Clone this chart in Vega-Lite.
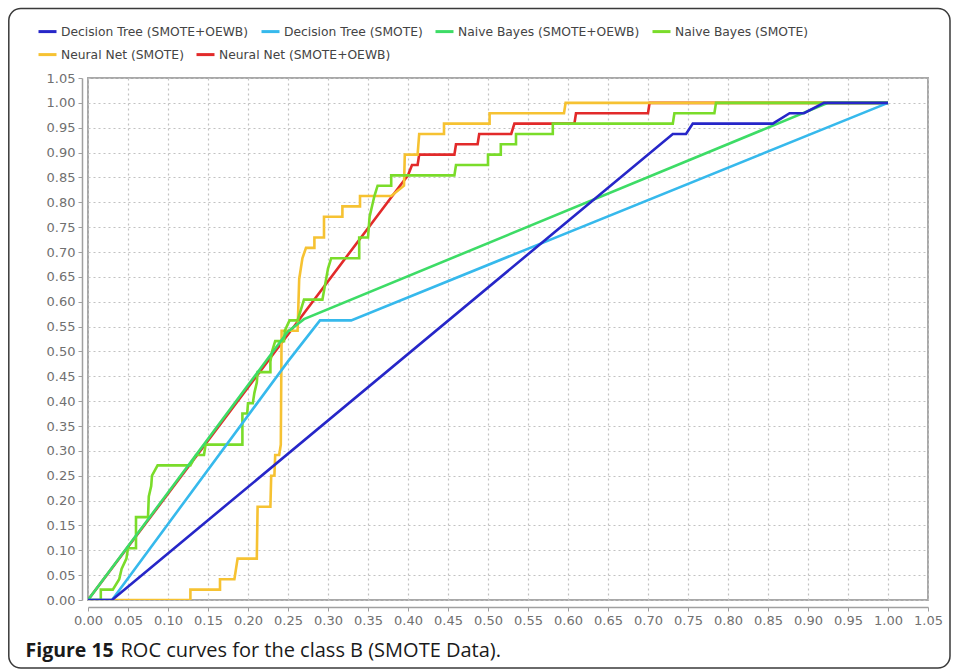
{
  "$schema": "https://vega.github.io/schema/vega-lite/v6.json",
  "width": 840,
  "height": 522,
  "autosize": "none",
  "padding": {"left": 88, "top": 78, "right": 28, "bottom": 70},
  "background": "white",
  "config": {
    "view": {"stroke": "#a8a8a8", "strokeWidth": 2},
    "axis": {
      "grid": true,
      "labelFont": "DejaVu Sans", "labelFontSize": 13, "labelColor": "#707070",
      "labelOverlap": false, "labelFlush": false,
      "domainColor": "#a0a0a0", "domainWidth": 1.5, "tickColor": "#a0a0a0", "tickSize": 4,
      "gridColor": "#c2c2c2", "gridDash": [2, 3], "gridWidth": 1.2
    },
    "legend": {
      "labelFont": "DejaVu Sans", "labelFontSize": 12.3, "labelColor": "#444444", "labelLimit": 0,
      "symbolType": "stroke", "symbolStrokeWidth": 3, "symbolSize": 324, "labelOffset": 3,
      "columnPadding": 6, "padding": 0
    }
  },
  "datasets": {
    "nn": [
      {"s": "Neural Net (SMOTE+OEWB)", "i": 0, "x": 0, "y": 0},
      {"s": "Neural Net (SMOTE+OEWB)", "i": 1, "x": 0.39, "y": 0.8333},
      {"s": "Neural Net (SMOTE+OEWB)", "i": 2, "x": 0.40, "y": 0.8542},
      {"s": "Neural Net (SMOTE+OEWB)", "i": 3, "x": 0.405, "y": 0.875},
      {"s": "Neural Net (SMOTE+OEWB)", "i": 4, "x": 0.412, "y": 0.875},
      {"s": "Neural Net (SMOTE+OEWB)", "i": 5, "x": 0.414, "y": 0.8958},
      {"s": "Neural Net (SMOTE+OEWB)", "i": 6, "x": 0.458, "y": 0.8958},
      {"s": "Neural Net (SMOTE+OEWB)", "i": 7, "x": 0.46, "y": 0.9167},
      {"s": "Neural Net (SMOTE+OEWB)", "i": 8, "x": 0.487, "y": 0.9167},
      {"s": "Neural Net (SMOTE+OEWB)", "i": 9, "x": 0.489, "y": 0.9375},
      {"s": "Neural Net (SMOTE+OEWB)", "i": 10, "x": 0.529, "y": 0.9375},
      {"s": "Neural Net (SMOTE+OEWB)", "i": 11, "x": 0.533, "y": 0.9583},
      {"s": "Neural Net (SMOTE+OEWB)", "i": 12, "x": 0.608, "y": 0.9583},
      {"s": "Neural Net (SMOTE+OEWB)", "i": 13, "x": 0.61, "y": 0.9792},
      {"s": "Neural Net (SMOTE+OEWB)", "i": 14, "x": 0.70, "y": 0.9792},
      {"s": "Neural Net (SMOTE+OEWB)", "i": 15, "x": 0.702, "y": 1},
      {"s": "Neural Net (SMOTE+OEWB)", "i": 16, "x": 1, "y": 1},
      {"s": "Neural Net (SMOTE)", "i": 0, "x": 0, "y": 0},
      {"s": "Neural Net (SMOTE)", "i": 1, "x": 0.128, "y": 0},
      {"s": "Neural Net (SMOTE)", "i": 2, "x": 0.128, "y": 0.0208},
      {"s": "Neural Net (SMOTE)", "i": 3, "x": 0.165, "y": 0.0208},
      {"s": "Neural Net (SMOTE)", "i": 4, "x": 0.165, "y": 0.0417},
      {"s": "Neural Net (SMOTE)", "i": 5, "x": 0.183, "y": 0.0417},
      {"s": "Neural Net (SMOTE)", "i": 6, "x": 0.187, "y": 0.0833},
      {"s": "Neural Net (SMOTE)", "i": 7, "x": 0.211, "y": 0.0833},
      {"s": "Neural Net (SMOTE)", "i": 8, "x": 0.212, "y": 0.1875},
      {"s": "Neural Net (SMOTE)", "i": 9, "x": 0.228, "y": 0.1875},
      {"s": "Neural Net (SMOTE)", "i": 10, "x": 0.229, "y": 0.25},
      {"s": "Neural Net (SMOTE)", "i": 11, "x": 0.233, "y": 0.25},
      {"s": "Neural Net (SMOTE)", "i": 12, "x": 0.234, "y": 0.2917},
      {"s": "Neural Net (SMOTE)", "i": 13, "x": 0.239, "y": 0.2917},
      {"s": "Neural Net (SMOTE)", "i": 14, "x": 0.241, "y": 0.3125},
      {"s": "Neural Net (SMOTE)", "i": 15, "x": 0.242, "y": 0.5417},
      {"s": "Neural Net (SMOTE)", "i": 16, "x": 0.262, "y": 0.5417},
      {"s": "Neural Net (SMOTE)", "i": 17, "x": 0.264, "y": 0.6458},
      {"s": "Neural Net (SMOTE)", "i": 18, "x": 0.268, "y": 0.6875},
      {"s": "Neural Net (SMOTE)", "i": 19, "x": 0.2725, "y": 0.7083},
      {"s": "Neural Net (SMOTE)", "i": 20, "x": 0.283, "y": 0.7083},
      {"s": "Neural Net (SMOTE)", "i": 21, "x": 0.283, "y": 0.7292},
      {"s": "Neural Net (SMOTE)", "i": 22, "x": 0.295, "y": 0.7292},
      {"s": "Neural Net (SMOTE)", "i": 23, "x": 0.295, "y": 0.7708},
      {"s": "Neural Net (SMOTE)", "i": 24, "x": 0.318, "y": 0.7708},
      {"s": "Neural Net (SMOTE)", "i": 25, "x": 0.318, "y": 0.7917},
      {"s": "Neural Net (SMOTE)", "i": 26, "x": 0.34, "y": 0.7917},
      {"s": "Neural Net (SMOTE)", "i": 27, "x": 0.34, "y": 0.8125},
      {"s": "Neural Net (SMOTE)", "i": 28, "x": 0.379, "y": 0.8125},
      {"s": "Neural Net (SMOTE)", "i": 29, "x": 0.395, "y": 0.8333},
      {"s": "Neural Net (SMOTE)", "i": 30, "x": 0.396, "y": 0.8958},
      {"s": "Neural Net (SMOTE)", "i": 31, "x": 0.412, "y": 0.8958},
      {"s": "Neural Net (SMOTE)", "i": 32, "x": 0.414, "y": 0.9375},
      {"s": "Neural Net (SMOTE)", "i": 33, "x": 0.445, "y": 0.9375},
      {"s": "Neural Net (SMOTE)", "i": 34, "x": 0.445, "y": 0.9583},
      {"s": "Neural Net (SMOTE)", "i": 35, "x": 0.502, "y": 0.9583},
      {"s": "Neural Net (SMOTE)", "i": 36, "x": 0.502, "y": 0.9792},
      {"s": "Neural Net (SMOTE)", "i": 37, "x": 0.595, "y": 0.9792},
      {"s": "Neural Net (SMOTE)", "i": 38, "x": 0.597, "y": 1},
      {"s": "Neural Net (SMOTE)", "i": 39, "x": 1, "y": 1}
    ],
    "dtnb": [
      {"s": "Naive Bayes (SMOTE)", "i": 0, "x": 0, "y": 0},
      {"s": "Naive Bayes (SMOTE)", "i": 1, "x": 0.016, "y": 0},
      {"s": "Naive Bayes (SMOTE)", "i": 2, "x": 0.016, "y": 0.0208},
      {"s": "Naive Bayes (SMOTE)", "i": 3, "x": 0.031, "y": 0.0208},
      {"s": "Naive Bayes (SMOTE)", "i": 4, "x": 0.039, "y": 0.0417},
      {"s": "Naive Bayes (SMOTE)", "i": 5, "x": 0.042, "y": 0.0625},
      {"s": "Naive Bayes (SMOTE)", "i": 6, "x": 0.048, "y": 0.0833},
      {"s": "Naive Bayes (SMOTE)", "i": 7, "x": 0.05, "y": 0.1042},
      {"s": "Naive Bayes (SMOTE)", "i": 8, "x": 0.06, "y": 0.1042},
      {"s": "Naive Bayes (SMOTE)", "i": 9, "x": 0.06, "y": 0.1667},
      {"s": "Naive Bayes (SMOTE)", "i": 10, "x": 0.075, "y": 0.1667},
      {"s": "Naive Bayes (SMOTE)", "i": 11, "x": 0.076, "y": 0.2083},
      {"s": "Naive Bayes (SMOTE)", "i": 12, "x": 0.079, "y": 0.2292},
      {"s": "Naive Bayes (SMOTE)", "i": 13, "x": 0.08, "y": 0.25},
      {"s": "Naive Bayes (SMOTE)", "i": 14, "x": 0.087, "y": 0.2708},
      {"s": "Naive Bayes (SMOTE)", "i": 15, "x": 0.128, "y": 0.2708},
      {"s": "Naive Bayes (SMOTE)", "i": 16, "x": 0.135, "y": 0.2917},
      {"s": "Naive Bayes (SMOTE)", "i": 17, "x": 0.145, "y": 0.2917},
      {"s": "Naive Bayes (SMOTE)", "i": 18, "x": 0.147, "y": 0.3125},
      {"s": "Naive Bayes (SMOTE)", "i": 19, "x": 0.193, "y": 0.3125},
      {"s": "Naive Bayes (SMOTE)", "i": 20, "x": 0.193, "y": 0.375},
      {"s": "Naive Bayes (SMOTE)", "i": 21, "x": 0.199, "y": 0.375},
      {"s": "Naive Bayes (SMOTE)", "i": 22, "x": 0.2, "y": 0.3958},
      {"s": "Naive Bayes (SMOTE)", "i": 23, "x": 0.206, "y": 0.3958},
      {"s": "Naive Bayes (SMOTE)", "i": 24, "x": 0.208, "y": 0.4167},
      {"s": "Naive Bayes (SMOTE)", "i": 25, "x": 0.211, "y": 0.4375},
      {"s": "Naive Bayes (SMOTE)", "i": 26, "x": 0.212, "y": 0.4583},
      {"s": "Naive Bayes (SMOTE)", "i": 27, "x": 0.228, "y": 0.4583},
      {"s": "Naive Bayes (SMOTE)", "i": 28, "x": 0.228, "y": 0.4792},
      {"s": "Naive Bayes (SMOTE)", "i": 29, "x": 0.23, "y": 0.5},
      {"s": "Naive Bayes (SMOTE)", "i": 30, "x": 0.234, "y": 0.5208},
      {"s": "Naive Bayes (SMOTE)", "i": 31, "x": 0.245, "y": 0.5208},
      {"s": "Naive Bayes (SMOTE)", "i": 32, "x": 0.246, "y": 0.5417},
      {"s": "Naive Bayes (SMOTE)", "i": 33, "x": 0.252, "y": 0.5625},
      {"s": "Naive Bayes (SMOTE)", "i": 34, "x": 0.262, "y": 0.5625},
      {"s": "Naive Bayes (SMOTE)", "i": 35, "x": 0.27, "y": 0.6042},
      {"s": "Naive Bayes (SMOTE)", "i": 36, "x": 0.293, "y": 0.6042},
      {"s": "Naive Bayes (SMOTE)", "i": 37, "x": 0.30, "y": 0.6667},
      {"s": "Naive Bayes (SMOTE)", "i": 38, "x": 0.304, "y": 0.6875},
      {"s": "Naive Bayes (SMOTE)", "i": 39, "x": 0.339, "y": 0.6875},
      {"s": "Naive Bayes (SMOTE)", "i": 40, "x": 0.339, "y": 0.7292},
      {"s": "Naive Bayes (SMOTE)", "i": 41, "x": 0.35, "y": 0.7292},
      {"s": "Naive Bayes (SMOTE)", "i": 42, "x": 0.352, "y": 0.7708},
      {"s": "Naive Bayes (SMOTE)", "i": 43, "x": 0.358, "y": 0.8125},
      {"s": "Naive Bayes (SMOTE)", "i": 44, "x": 0.362, "y": 0.8333},
      {"s": "Naive Bayes (SMOTE)", "i": 45, "x": 0.379, "y": 0.8333},
      {"s": "Naive Bayes (SMOTE)", "i": 46, "x": 0.379, "y": 0.8542},
      {"s": "Naive Bayes (SMOTE)", "i": 47, "x": 0.458, "y": 0.8542},
      {"s": "Naive Bayes (SMOTE)", "i": 48, "x": 0.46, "y": 0.875},
      {"s": "Naive Bayes (SMOTE)", "i": 49, "x": 0.5, "y": 0.875},
      {"s": "Naive Bayes (SMOTE)", "i": 50, "x": 0.5, "y": 0.8958},
      {"s": "Naive Bayes (SMOTE)", "i": 51, "x": 0.516, "y": 0.8958},
      {"s": "Naive Bayes (SMOTE)", "i": 52, "x": 0.516, "y": 0.9167},
      {"s": "Naive Bayes (SMOTE)", "i": 53, "x": 0.535, "y": 0.9167},
      {"s": "Naive Bayes (SMOTE)", "i": 54, "x": 0.535, "y": 0.9375},
      {"s": "Naive Bayes (SMOTE)", "i": 55, "x": 0.581, "y": 0.9375},
      {"s": "Naive Bayes (SMOTE)", "i": 56, "x": 0.581, "y": 0.9583},
      {"s": "Naive Bayes (SMOTE)", "i": 57, "x": 0.731, "y": 0.9583},
      {"s": "Naive Bayes (SMOTE)", "i": 58, "x": 0.733, "y": 0.9792},
      {"s": "Naive Bayes (SMOTE)", "i": 59, "x": 0.783, "y": 0.9792},
      {"s": "Naive Bayes (SMOTE)", "i": 60, "x": 0.785, "y": 1},
      {"s": "Naive Bayes (SMOTE)", "i": 61, "x": 1, "y": 1},
      {"s": "Naive Bayes (SMOTE+OEWB)", "i": 0, "x": 0, "y": 0},
      {"s": "Naive Bayes (SMOTE+OEWB)", "i": 1, "x": 0.25, "y": 0.54},
      {"s": "Naive Bayes (SMOTE+OEWB)", "i": 2, "x": 0.27, "y": 0.565},
      {"s": "Naive Bayes (SMOTE+OEWB)", "i": 3, "x": 0.925, "y": 1},
      {"s": "Naive Bayes (SMOTE+OEWB)", "i": 4, "x": 1, "y": 1},
      {"s": "Decision Tree (SMOTE)", "i": 0, "x": 0, "y": 0},
      {"s": "Decision Tree (SMOTE)", "i": 1, "x": 0.03, "y": 0},
      {"s": "Decision Tree (SMOTE)", "i": 2, "x": 0.25, "y": 0.48},
      {"s": "Decision Tree (SMOTE)", "i": 3, "x": 0.29, "y": 0.5625},
      {"s": "Decision Tree (SMOTE)", "i": 4, "x": 0.329, "y": 0.5625},
      {"s": "Decision Tree (SMOTE)", "i": 5, "x": 1, "y": 1},
      {"s": "Decision Tree (SMOTE+OEWB)", "i": 0, "x": 0, "y": 0},
      {"s": "Decision Tree (SMOTE+OEWB)", "i": 1, "x": 0.03, "y": 0},
      {"s": "Decision Tree (SMOTE+OEWB)", "i": 2, "x": 0.731, "y": 0.9375},
      {"s": "Decision Tree (SMOTE+OEWB)", "i": 3, "x": 0.7475, "y": 0.9375},
      {"s": "Decision Tree (SMOTE+OEWB)", "i": 4, "x": 0.756, "y": 0.9583},
      {"s": "Decision Tree (SMOTE+OEWB)", "i": 5, "x": 0.856, "y": 0.9583},
      {"s": "Decision Tree (SMOTE+OEWB)", "i": 6, "x": 0.877, "y": 0.9792},
      {"s": "Decision Tree (SMOTE+OEWB)", "i": 7, "x": 0.895, "y": 0.9792},
      {"s": "Decision Tree (SMOTE+OEWB)", "i": 8, "x": 0.92, "y": 1},
      {"s": "Decision Tree (SMOTE+OEWB)", "i": 9, "x": 1, "y": 1}
    ]
  },
  "layer": [
    {
      "data": {"values": [{}]},
      "mark": {"type": "rect", "fill": null, "stroke": "#3a3a3a", "strokeWidth": 1.5, "cornerRadius": 12},
      "encoding": {
        "x": {"datum": -0.099, "type": "quantitative", "scale": {"domain": [0, 1.05], "nice": false, "zero": false},
          "axis": {"grid": true, "values": [0,0.05,0.1,0.15,0.2,0.25,0.3,0.35,0.4,0.45,0.5,0.55,0.6,0.65,0.7,0.75,0.8,0.85,0.9,0.95,1,1.05], "format": ".2f", "offset": 7, "labelPadding": 3,
            "title": "ROC curves for the class B (SMOTE Data).", "titleFont": "Open Sans", "titleFontSize": 20, "titleFontWeight": "normal", "titleColor": "#1a1a1a",
            "titleX": 32, "titleY": 49, "titleAlign": "left", "titleBaseline": "alphabetic"}},
        "x2": {"datum": 1.0775},
        "y": {"datum": 1.19, "type": "quantitative", "scale": {"domain": [0, 1.05], "nice": false, "zero": false},
          "axis": {"grid": true, "values": [0,0.05,0.1,0.15,0.2,0.25,0.3,0.35,0.4,0.45,0.5,0.55,0.6,0.65,0.7,0.75,0.8,0.85,0.9,0.95,1,1.05], "format": ".2f", "offset": 6, "labelPadding": 3,
            "title": "Figure 15", "titleFont": "Open Sans", "titleFontSize": 19.5, "titleFontWeight": "bold", "titleColor": "#1a1a1a",
            "titleAngle": 0, "titleX": -57, "titleY": 578, "titleAlign": "left", "titleBaseline": "alphabetic"}},
        "y2": {"datum": -0.137}
      }
    },
    {
      "data": {"name": "nn"},
      "mark": {"type": "line", "strokeWidth": 2.6, "clip": true},
      "encoding": {
        "x": {"field": "x", "type": "quantitative", "scale": {"domain": [0, 1.05], "nice": false, "zero": false},
          "axis": {"grid": true, "values": [0,0.05,0.1,0.15,0.2,0.25,0.3,0.35,0.4,0.45,0.5,0.55,0.6,0.65,0.7,0.75,0.8,0.85,0.9,0.95,1,1.05], "format": ".2f", "offset": 7, "labelPadding": 3,
            "title": "ROC curves for the class B (SMOTE Data).", "titleFont": "Open Sans", "titleFontSize": 20, "titleFontWeight": "normal", "titleColor": "#1a1a1a",
            "titleX": 32, "titleY": 49, "titleAlign": "left", "titleBaseline": "alphabetic"}},
        "y": {"field": "y", "type": "quantitative", "scale": {"domain": [0, 1.05], "nice": false, "zero": false},
          "axis": {"grid": true, "values": [0,0.05,0.1,0.15,0.2,0.25,0.3,0.35,0.4,0.45,0.5,0.55,0.6,0.65,0.7,0.75,0.8,0.85,0.9,0.95,1,1.05], "format": ".2f", "offset": 6, "labelPadding": 3,
            "title": "Figure 15", "titleFont": "Open Sans", "titleFontSize": 19.5, "titleFontWeight": "bold", "titleColor": "#1a1a1a",
            "titleAngle": 0, "titleX": -57, "titleY": 578, "titleAlign": "left", "titleBaseline": "alphabetic"}},
        "color": {"field": "s", "type": "nominal",
          "scale": {"domain": ["Neural Net (SMOTE)", "Neural Net (SMOTE+OEWB)"], "range": ["#f6c232", "#e22a2a"]},
          "legend": {"title": null, "orient": "none", "legendX": -51, "legendY": -34, "direction": "horizontal", "columns": 2}},
        "order": {"field": "i", "type": "quantitative"}
      }
    },
    {
      "data": {"name": "dtnb"},
      "mark": {"type": "line", "strokeWidth": 2.6, "clip": true},
      "encoding": {
        "x": {"field": "x", "type": "quantitative", "scale": {"domain": [0, 1.05], "nice": false, "zero": false},
          "axis": {"grid": true, "values": [0,0.05,0.1,0.15,0.2,0.25,0.3,0.35,0.4,0.45,0.5,0.55,0.6,0.65,0.7,0.75,0.8,0.85,0.9,0.95,1,1.05], "format": ".2f", "offset": 7, "labelPadding": 3,
            "title": "ROC curves for the class B (SMOTE Data).", "titleFont": "Open Sans", "titleFontSize": 20, "titleFontWeight": "normal", "titleColor": "#1a1a1a",
            "titleX": 32, "titleY": 49, "titleAlign": "left", "titleBaseline": "alphabetic"}},
        "y": {"field": "y", "type": "quantitative", "scale": {"domain": [0, 1.05], "nice": false, "zero": false},
          "axis": {"grid": true, "values": [0,0.05,0.1,0.15,0.2,0.25,0.3,0.35,0.4,0.45,0.5,0.55,0.6,0.65,0.7,0.75,0.8,0.85,0.9,0.95,1,1.05], "format": ".2f", "offset": 6, "labelPadding": 3,
            "title": "Figure 15", "titleFont": "Open Sans", "titleFontSize": 19.5, "titleFontWeight": "bold", "titleColor": "#1a1a1a",
            "titleAngle": 0, "titleX": -57, "titleY": 578, "titleAlign": "left", "titleBaseline": "alphabetic"}},
        "color": {"field": "s", "type": "nominal",
          "scale": {"domain": ["Decision Tree (SMOTE+OEWB)", "Decision Tree (SMOTE)", "Naive Bayes (SMOTE+OEWB)", "Naive Bayes (SMOTE)"], "range": ["#2626c8", "#36b9ec", "#3ddc66", "#7adc2a"]},
          "legend": {"title": null, "orient": "none", "legendX": -51, "legendY": -57, "direction": "horizontal", "columns": 4}},
        "order": {"field": "i", "type": "quantitative"}
      }
    }
  ],
  "resolve": {"scale": {"color": "independent"}, "legend": {"color": "independent"}}
}
